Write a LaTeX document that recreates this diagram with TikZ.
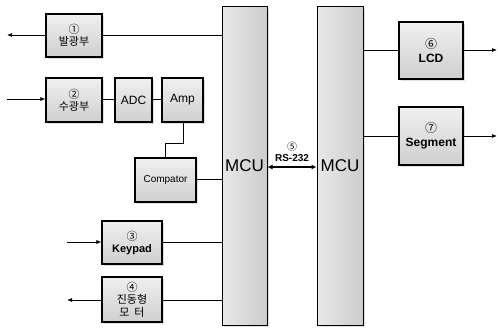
\documentclass[tikz,border=0pt]{standalone}
\usepackage{fontspec}
\setmainfont{Liberation Sans}
\newfontfamily\kr{Noto Sans CJK KR}
\usepackage{tikz}
\usetikzlibrary{positioning,arrows.meta,shadows,calc}

\begin{document}
\begin{tikzpicture}[x=1pt,y=-1pt,
  blk/.style={draw, line width=1.2pt, top color=gray!12, bottom color=gray!38,
    drop shadow={opacity=0.25,shadow xshift=2pt,shadow yshift=-2pt},
    inner sep=0pt, align=center, font=\fontsize{11}{12}\selectfont},
  mcu/.style={draw, line width=1pt, left color=gray!18, right color=gray!40,
    drop shadow={opacity=0.25,shadow xshift=2pt,shadow yshift=-2pt},
    minimum height=318pt, inner sep=0pt, font=\fontsize{17}{18}\selectfont},
  wire/.style={line width=0.7pt},
  arr/.style={line width=0.7pt,-{Latex[length=5pt,width=4pt]}}]
  \useasboundingbox (0,0) rectangle (498,329);

  % controllers
  \node[mcu, minimum width=45pt] (mcuL) at (244.5,166) {MCU};
  \node[mcu, minimum width=46pt] (mcuR) at (340,166) {MCU};

  % left side blocks
  \node[blk, minimum width=56pt, minimum height=43pt] (emit) at (74,35.5) {{\kr ①}\\{\kr 발광부}};
  \node[blk, minimum width=56pt, minimum height=44pt] (recv) at (74,100) {{\kr ②}\\{\kr 수광부}};
  \node[blk, minimum width=37pt, minimum height=44pt, font=\fontsize{12}{13}\selectfont] (adc) at (133.5,100) {ADC};
  \node[blk, minimum width=41pt, minimum height=44pt, font=\fontsize{12}{13}\selectfont] (amp) at (182.5,100) {Amp};
  \node[blk, minimum width=61pt, minimum height=44pt, font=\fontsize{10}{11}\selectfont] (comp) at (165.5,180) {Compator};
  \node[blk, minimum width=60pt, minimum height=43pt] (key) at (132,242.5) {{\kr ③}\\\textbf{Keypad}};
  \node[blk, minimum width=60pt, minimum height=45pt, font=\fontsize{11}{12.5}\selectfont] (motor) at (132,299.5) {{\kr ④}\\{\kr 진동형}\\{\kr 모\ \ 터}};

  % right side blocks
  \node[blk, minimum width=64pt, minimum height=57pt, font=\fontsize{12}{14}\selectfont] (lcd) at (431,50.5) {{\kr ⑥}\\\textbf{LCD}};
  \node[blk, minimum width=64pt, minimum height=58pt, font=\fontsize{12}{14}\selectfont] (seg) at (431,136) {{\kr ⑦}\\\textbf{Segment}};

  % free ends
  \coordinate (emitOut) at (7,35);
  \coordinate (recvIn) at (7,99);
  \coordinate (keyIn) at (67,242);
  \coordinate (motorOut) at (67,300);
  \coordinate (lcdOut) at (497,50);
  \coordinate (segOut) at (497,136);

  % wires
  \draw[wire] (emit.east |- emitOut) -- (emitOut -| mcuL.west);
  \draw[arr] (emit.west |- emitOut) -- (emitOut);
  \draw[arr] (recvIn) -- (recvIn -| recv.west);
  \draw[wire] (recv.east |- recvIn) -- (recvIn -| adc.west);
  \draw[wire] (adc.east |- recvIn) -- (recvIn -| amp.west);
  \draw[wire] (amp.south) ++(0.5,0) -- ++(0,21) -| (comp.north);
  \draw[wire] (comp.east |- 0,179) -- (mcuL.west |- 0,179);
  \draw[arr] (keyIn) -- (keyIn -| key.west);
  \draw[wire] (key.east |- keyIn) -- (keyIn -| mcuL.west);
  \draw[wire] (motor.east |- motorOut) -- (motorOut -| mcuL.west);
  \draw[arr] (motor.west |- motorOut) -- (motorOut);

  \draw[wire] (mcuR.east |- lcdOut) -- (lcdOut -| lcd.west);
  \draw[arr] (lcd.east |- lcdOut) -- (lcdOut);
  \draw[wire] (mcuR.east |- segOut) -- (segOut -| seg.west);
  \draw[arr] (seg.east |- segOut) -- (segOut);

  % serial link
  \draw[line width=1.2pt,{Latex[length=5pt,width=5pt]}-{Latex[length=5pt,width=5pt]}] (mcuL.east |- 0,167) -- (mcuR.west |- 0,167)
    node[midway, above=1pt, align=center, font=\fontsize{10}{11}\selectfont] (rs) {{\kr ⑤}\\\textbf{RS-232}};
\end{tikzpicture}
\end{document}
